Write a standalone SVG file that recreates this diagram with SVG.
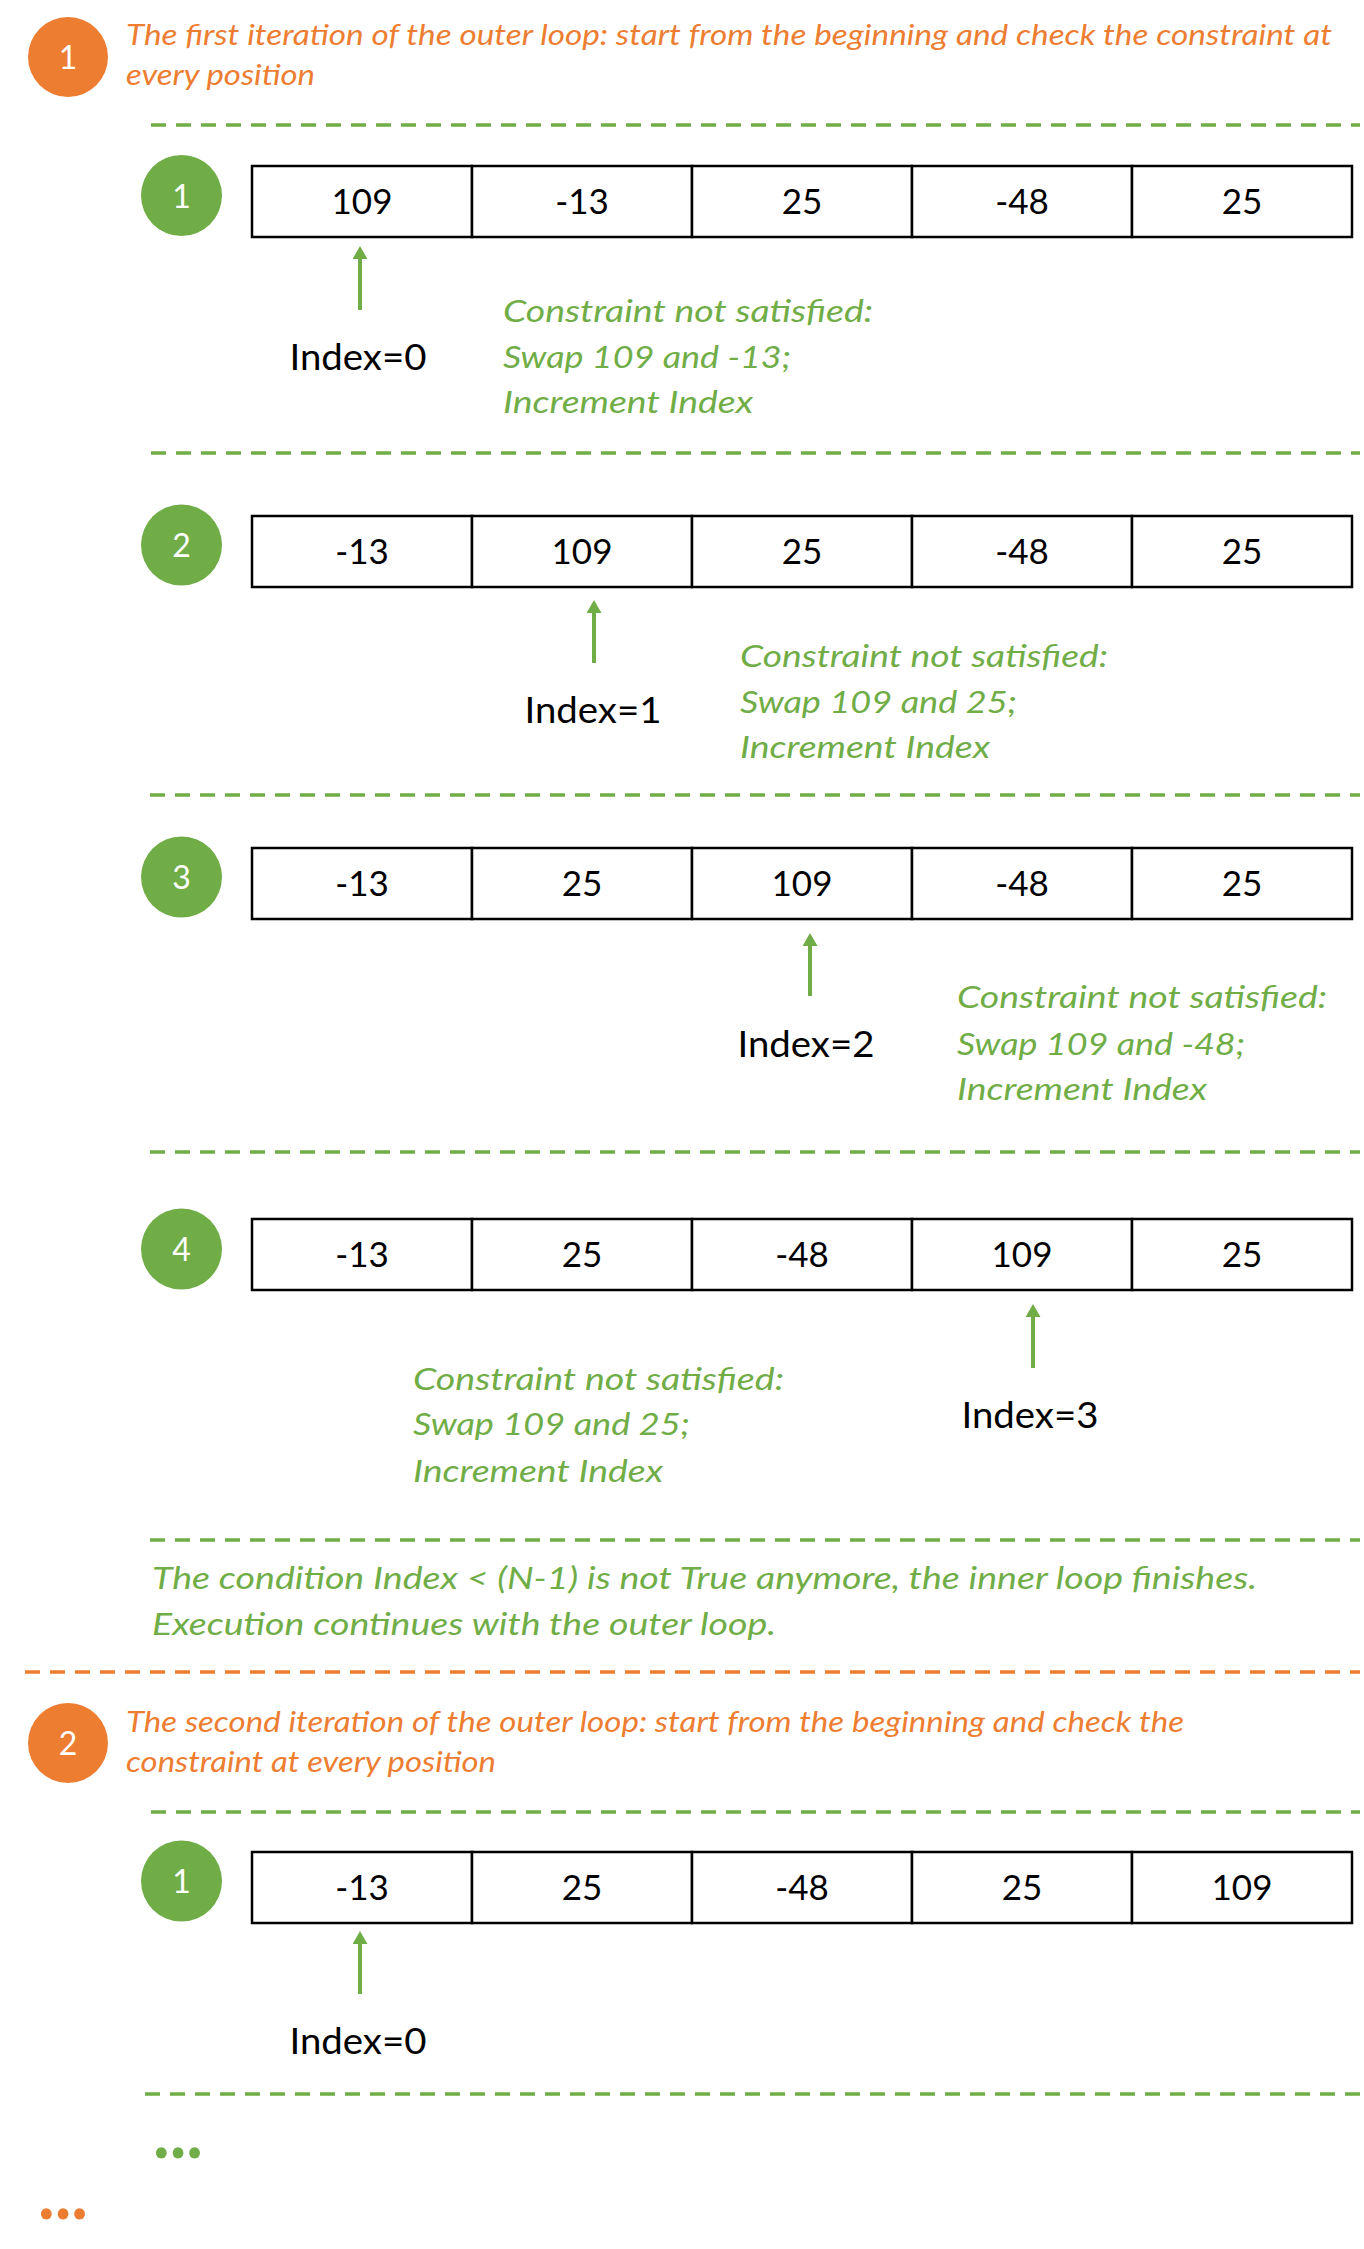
<svg xmlns="http://www.w3.org/2000/svg" width="1364" height="2249" viewBox="0 0 1364 2249">
<defs>
<style>
.bg{fill:#ffffff}
.dg{stroke:#70AD47;stroke-width:3.5;stroke-dasharray:15 10;fill:none}
.do{stroke:#ED7D31;stroke-width:3.5;stroke-dasharray:15 10;fill:none}
.gc{fill:#70AD47}
.oc{fill:#ED7D31}
.cn{font-family:Lato,"Open Sans","Liberation Sans",sans-serif;font-size:32px;fill:#ffffff;text-anchor:middle}
.cell{fill:#ffffff;stroke:#000000;stroke-width:2.5}
.num{font-family:Lato,"Open Sans","Liberation Sans",sans-serif;font-size:35px;fill:#000000;text-anchor:middle}
.idx{font-family:Lato,"Open Sans","Liberation Sans",sans-serif;font-size:36px;fill:#000000;text-anchor:middle}
.gt{font-family:Lato,"Open Sans","Liberation Sans",sans-serif;font-size:31px;font-style:italic;fill:#70AD47}
.ot{font-family:Lato,"Open Sans","Liberation Sans",sans-serif;font-size:28px;font-style:italic;fill:#ED7D31}
.arr{stroke:#70AD47;stroke-width:4;fill:none;marker-end:url(#ah)}
.dots{font-family:Lato,"Open Sans","Liberation Sans",sans-serif;font-size:74px;font-weight:bold}
</style>
<marker id="ah" viewBox="0 0 13 15" refX="3" refY="7.5" markerWidth="13" markerHeight="15" markerUnits="userSpaceOnUse" orient="auto">
<path d="M0,0 L13,7.5 L0,15 z" fill="#70AD47"/>
</marker>
<g id="row">
<rect class="cell" x="252" y="0" width="220" height="71"/>
<rect class="cell" x="472" y="0" width="220" height="71"/>
<rect class="cell" x="692" y="0" width="220" height="71"/>
<rect class="cell" x="912" y="0" width="220" height="71"/>
<rect class="cell" x="1132" y="0" width="220" height="71"/>
</g>
</defs>
<rect class="bg" x="0" y="0" width="1364" height="2249"/>

<g id="separators">
<line class="dg" x1="151" y1="125" x2="1360" y2="125"/>
<line class="dg" x1="151" y1="453" x2="1360" y2="453"/>
<line class="dg" x1="150" y1="795" x2="1360" y2="795"/>
<line class="dg" x1="150" y1="1152" x2="1360" y2="1152"/>
<line class="dg" x1="150" y1="1540" x2="1360" y2="1540"/>
<line class="do" x1="25" y1="1672" x2="1360" y2="1672"/>
<line class="dg" x1="151" y1="1812" x2="1360" y2="1812"/>
<line class="dg" x1="145" y1="2094" x2="1360" y2="2094"/>
</g>

<g id="outer1">
<circle class="oc" cx="68" cy="57" r="40"/>
<text class="cn" x="68" y="69">1</text>
<text class="ot" x="126" y="45" textLength="1206" lengthAdjust="spacingAndGlyphs">The first iteration of the outer loop: start from the beginning and check the constraint at</text>
<text class="ot" x="126" y="85" textLength="189" lengthAdjust="spacingAndGlyphs">every position</text>
</g>

<g id="step1-1">
<circle class="gc" cx="181.5" cy="195.5" r="40.5"/>
<text class="cn" x="181.5" y="208">1</text>
<use href="#row" y="166"/>
<text class="num" x="362" y="214">109</text>
<text class="num" x="582" y="214">-13</text>
<text class="num" x="802" y="214">25</text>
<text class="num" x="1022" y="214">-48</text>
<text class="num" x="1242" y="214">25</text>
<text class="idx" x="358" y="370" textLength="137" lengthAdjust="spacingAndGlyphs">Index=0</text>
<text class="gt" x="503" y="322" textLength="370" lengthAdjust="spacingAndGlyphs">Constraint not satisfied:</text>
<text class="gt" x="503" y="368" textLength="288" lengthAdjust="spacingAndGlyphs">Swap 109 and -13;</text>
<text class="gt" x="503" y="413" textLength="250" lengthAdjust="spacingAndGlyphs">Increment Index</text>
</g>

<g id="step1-2">
<circle class="gc" cx="181.5" cy="545" r="40.5"/>
<text class="cn" x="181.5" y="557">2</text>
<use href="#row" y="516"/>
<text class="num" x="362" y="564">-13</text>
<text class="num" x="582" y="564">109</text>
<text class="num" x="802" y="564">25</text>
<text class="num" x="1022" y="564">-48</text>
<text class="num" x="1242" y="564">25</text>
<text class="idx" x="593" y="723" textLength="137" lengthAdjust="spacingAndGlyphs">Index=1</text>
<text class="gt" x="740" y="667" textLength="368" lengthAdjust="spacingAndGlyphs">Constraint not satisfied:</text>
<text class="gt" x="740" y="713" textLength="277" lengthAdjust="spacingAndGlyphs">Swap 109 and 25;</text>
<text class="gt" x="740" y="758" textLength="250" lengthAdjust="spacingAndGlyphs">Increment Index</text>
</g>

<g id="step1-3">
<circle class="gc" cx="181.5" cy="877" r="40.5"/>
<text class="cn" x="181.5" y="889">3</text>
<use href="#row" y="848"/>
<text class="num" x="362" y="896">-13</text>
<text class="num" x="582" y="896">25</text>
<text class="num" x="802" y="896">109</text>
<text class="num" x="1022" y="896">-48</text>
<text class="num" x="1242" y="896">25</text>
<text class="idx" x="806" y="1057" textLength="137" lengthAdjust="spacingAndGlyphs">Index=2</text>
<text class="gt" x="957" y="1008" textLength="370" lengthAdjust="spacingAndGlyphs">Constraint not satisfied:</text>
<text class="gt" x="957" y="1055" textLength="288" lengthAdjust="spacingAndGlyphs">Swap 109 and -48;</text>
<text class="gt" x="957" y="1100" textLength="250" lengthAdjust="spacingAndGlyphs">Increment Index</text>
</g>

<g id="step1-4">
<circle class="gc" cx="181.5" cy="1249" r="40.5"/>
<text class="cn" x="181.5" y="1261">4</text>
<use href="#row" y="1219"/>
<text class="num" x="362" y="1267">-13</text>
<text class="num" x="582" y="1267">25</text>
<text class="num" x="802" y="1267">-48</text>
<text class="num" x="1022" y="1267">109</text>
<text class="num" x="1242" y="1267">25</text>
<text class="idx" x="1030" y="1428" textLength="137" lengthAdjust="spacingAndGlyphs">Index=3</text>
<text class="gt" x="413" y="1390" textLength="371" lengthAdjust="spacingAndGlyphs">Constraint not satisfied:</text>
<text class="gt" x="413" y="1435" textLength="277" lengthAdjust="spacingAndGlyphs">Swap 109 and 25;</text>
<text class="gt" x="413" y="1482" textLength="250" lengthAdjust="spacingAndGlyphs">Increment Index</text>
</g>

<g id="inner-end">
<text class="gt" x="152" y="1589" textLength="1105" lengthAdjust="spacingAndGlyphs">The condition Index &lt; (N-1) is not True anymore, the inner loop finishes.</text>
<text class="gt" x="152" y="1635" textLength="624" lengthAdjust="spacingAndGlyphs">Execution continues with the outer loop.</text>
</g>

<g id="outer2">
<circle class="oc" cx="68" cy="1743" r="40"/>
<text class="cn" x="68" y="1755">2</text>
<text class="ot" x="126" y="1732" textLength="1058" lengthAdjust="spacingAndGlyphs">The second iteration of the outer loop: start from the beginning and check the</text>
<text class="ot" x="126" y="1772" textLength="370" lengthAdjust="spacingAndGlyphs">constraint at every position</text>
</g>

<g id="step2-1">
<circle class="gc" cx="181.5" cy="1881" r="40.5"/>
<text class="cn" x="181.5" y="1893">1</text>
<use href="#row" y="1852"/>
<text class="num" x="362" y="1900">-13</text>
<text class="num" x="582" y="1900">25</text>
<text class="num" x="802" y="1900">-48</text>
<text class="num" x="1022" y="1900">25</text>
<text class="num" x="1242" y="1900">109</text>
<text class="idx" x="358" y="2054" textLength="137" lengthAdjust="spacingAndGlyphs">Index=0</text>
</g>

<g id="more">
<text class="dots" x="153" y="2158" fill="#70AD47" textLength="50" lengthAdjust="spacingAndGlyphs">...</text>
<text class="dots" x="38" y="2219" fill="#ED7D31" textLength="50" lengthAdjust="spacingAndGlyphs">...</text>
</g>

<g id="connectors">
<line class="arr" x1="360" y1="310" x2="360" y2="256"/>
<line class="arr" x1="594" y1="663" x2="594" y2="610"/>
<line class="arr" x1="810" y1="996" x2="810" y2="943"/>
<line class="arr" x1="1033" y1="1368" x2="1033" y2="1314"/>
<line class="arr" x1="360" y1="1994" x2="360" y2="1941"/>
</g>
</svg>
